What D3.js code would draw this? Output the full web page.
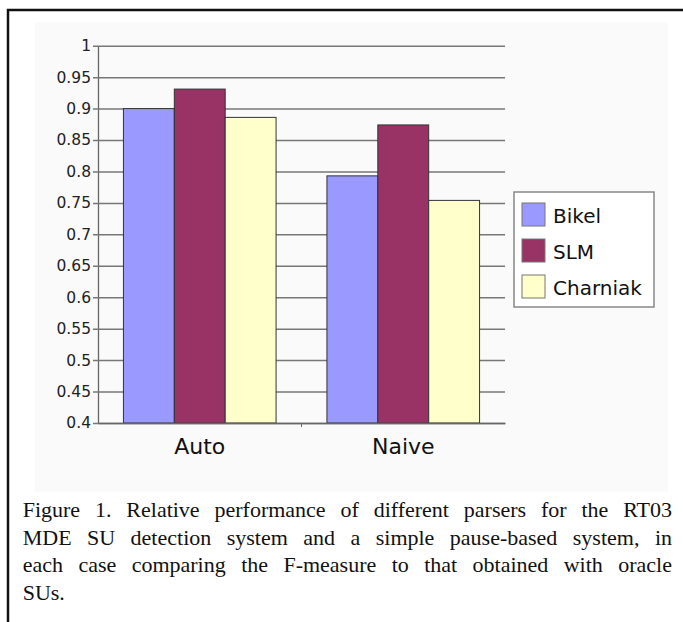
<!DOCTYPE html>
<html>
<head>
<meta charset="utf-8">
<script src="https://cdn.jsdelivr.net/npm/d3@7"></script>
<style>
  body { margin: 0; background: #fff; }
  svg { display: block; }
</style>
</head>
<body>
<div id="chart"></div>
<script>
const categories = ["Auto", "Naive"];
const parsers = ["Bikel", "SLM", "Charniak"];
const bikel = [0.900, 0.793];
const slm = [0.931, 0.874];
const charniak = [0.886, 0.754];
const yTicks = [0.4, 0.45, 0.5, 0.55, 0.6, 0.65, 0.7, 0.75, 0.8, 0.85, 0.9, 0.95, 1];
const captionLines = [
  "Figure 1. Relative performance of different parsers for the RT03",
  "MDE SU detection system and a simple pause-based system, in",
  "each case comparing the F-measure to that obtained with oracle",
  "SUs."
];

const colors = {Bikel: "#9999ff", SLM: "#993366", Charniak: "#ffffcc"};
const seriesValues = {Bikel: bikel, SLM: slm, Charniak: charniak};

const W = 683, H = 622;
const svg = d3.select("#chart").append("svg").attr("width", W).attr("height", H);

// faint panel behind the chart
svg.append("rect").attr("x", 35).attr("y", 22).attr("width", 633).attr("height", 470).attr("fill", "#fafafa");

// figure frame (only top + left are in view)
svg.append("path").attr("d", "M8," + H + " L8,10 L" + W + ",10")
  .attr("fill", "none").attr("stroke", "#111").attr("stroke-width", 2.5);

const plotL = 98, plotR = 505, plotT = 45.7, plotB = 423;

const y = d3.scaleLinear().domain([0.4, 1]).range([plotB, plotT]);
const x0 = d3.scaleBand().domain(categories).range([plotL, plotR]).paddingInner(0.25).paddingOuter(0.125);
const x1 = d3.scaleBand().domain(parsers).range([0, x0.bandwidth()]);

// gridlines + y axis
const yAxis = svg.append("g").attr("transform", "translate(" + plotL + ",0)")
  .call(d3.axisLeft(y).tickValues(yTicks).tickSize(-(plotR - plotL)).tickSizeOuter(0).tickFormat(d3.format("")));
yAxis.select(".domain").attr("stroke", "#666").attr("stroke-width", 1.3);
yAxis.selectAll(".tick line").attr("stroke", "#777").attr("stroke-width", 1.5).attr("x1", -5);
yAxis.selectAll(".tick text").attr("x", -7).attr("font-family", "DejaVu Sans").attr("font-size", 15.5).attr("fill", "#222");

// bars
const groups = svg.append("g").selectAll("g").data(categories).join("g")
  .attr("transform", d => "translate(" + x0(d) + ",0)");
groups.selectAll("rect")
  .data((c, i) => parsers.map(p => ({p: p, v: seriesValues[p][i]})))
  .join("rect")
  .attr("x", d => x1(d.p))
  .attr("y", d => y(d.v))
  .attr("width", x1.bandwidth())
  .attr("height", d => y(0.4) - y(d.v))
  .attr("fill", d => colors[d.p])
  .attr("stroke", "#333")
  .attr("stroke-width", 1);

// x axis
const xAxis = svg.append("g").attr("transform", "translate(0," + plotB + ")")
  .call(d3.axisBottom(x0).tickSize(0).tickPadding(15));
xAxis.select(".domain").attr("stroke", "#666").attr("stroke-width", 1.5);
xAxis.selectAll(".tick text").attr("font-family", "DejaVu Sans").attr("font-size", 22).attr("fill", "#111");
// separator tick between the two categories
const sepX = (x0("Auto") + x0.bandwidth() + x0("Naive")) / 2;
svg.append("line").attr("x1", sepX).attr("x2", sepX)
  .attr("y1", plotB).attr("y2", plotB + 4).attr("stroke", "#666");

// legend
const legend = svg.append("g").attr("transform", "translate(514,192)");
legend.append("rect").attr("width", 140).attr("height", 115).attr("fill", "#fff").attr("stroke", "#888").attr("stroke-width", 1.5);
const li = legend.selectAll("g").data(parsers).join("g")
  .attr("transform", (d, i) => "translate(8," + (11 + i * 36) + ")");
li.append("rect").attr("width", 23).attr("height", 23).attr("fill", d => colors[d]).attr("stroke", "#777");
li.append("text").attr("x", 31).attr("y", 20).text(d => d)
  .attr("font-family", "DejaVu Sans").attr("font-size", 20).attr("fill", "#111");

// justified caption
const capLeft = 22.7, capRight = 672, capTop = 517, capStep = 27.5;
captionLines.forEach(function(line, i) {
  const words = line.split(" ");
  const g = svg.append("g");
  const nodes = words.map(w => g.append("text").text(w)
    .attr("font-family", "Liberation Serif").attr("font-size", 22).attr("fill", "#111")
    .attr("y", capTop + i * capStep));
  const widths = nodes.map(n => n.node().getComputedTextLength());
  const total = d3.sum(widths);
  const last = i === captionLines.length - 1;
  const gap = (last || words.length < 2) ? 5.5 : (capRight - capLeft - total) / (words.length - 1);
  let cx = capLeft;
  nodes.forEach(function(n, j) {
    n.attr("x", cx);
    cx += widths[j] + gap;
  });
});
</script>
</body>
</html>
